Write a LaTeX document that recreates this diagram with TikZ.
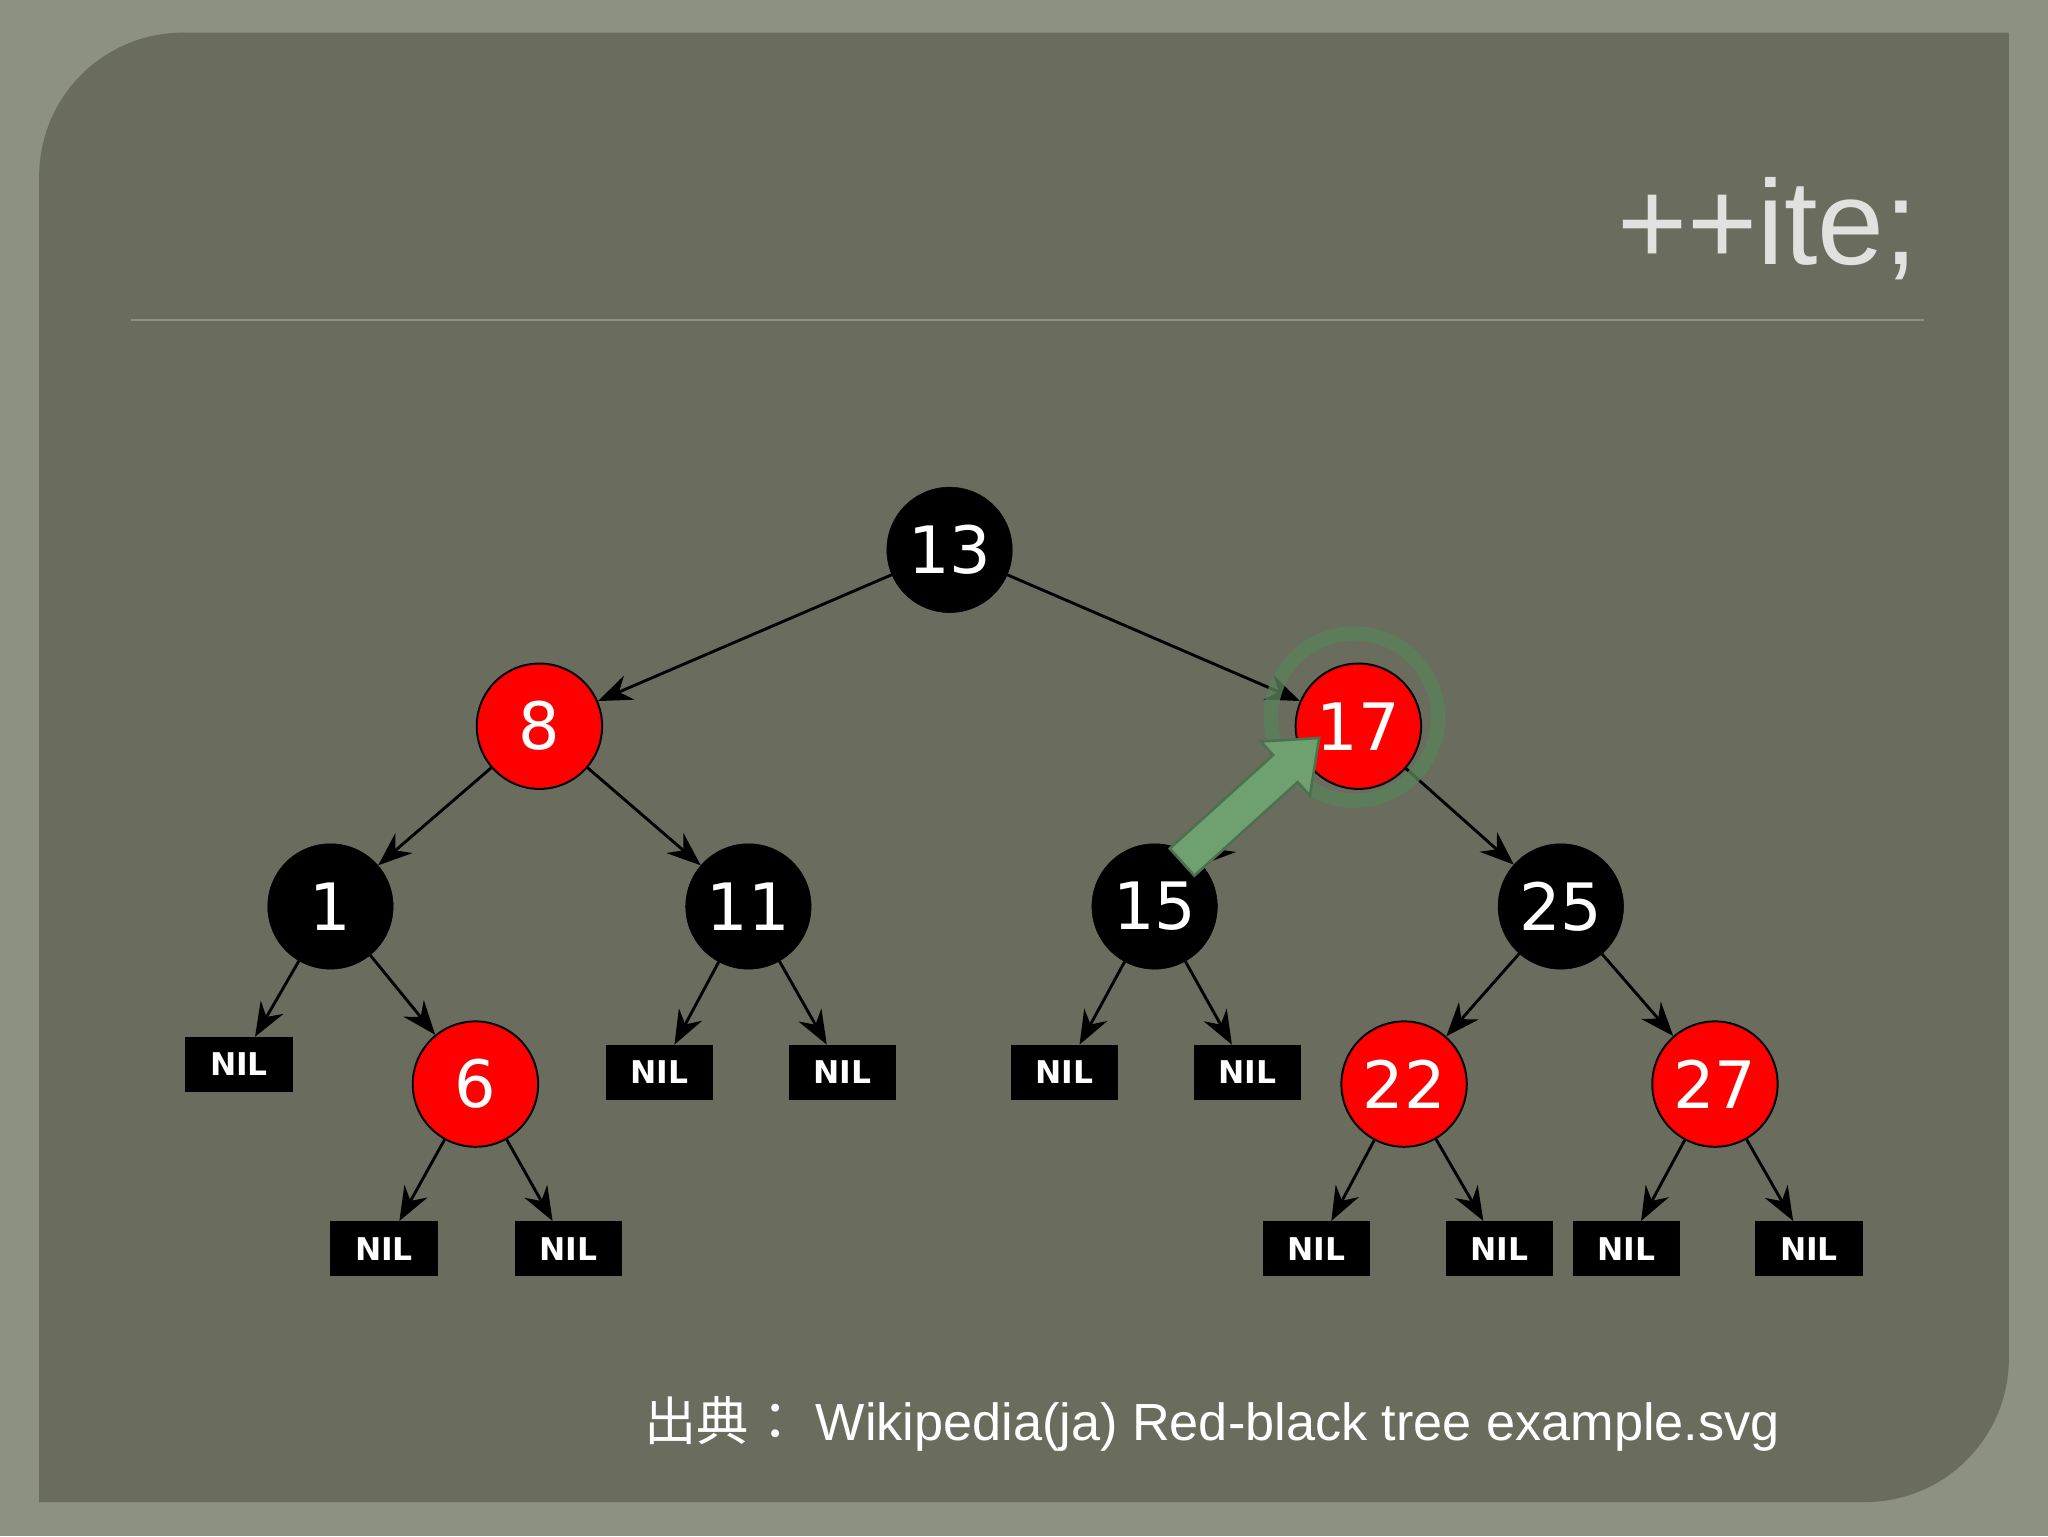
\documentclass[tikz,border=0pt]{standalone}
\usepackage{fontspec}
\setmainfont{DejaVu Sans}
\newfontfamily\titlefont{Liberation Sans}
\newfontfamily\cjk{Noto Sans CJK JP}
\usetikzlibrary{arrows.meta,calc}
\definecolor{outerbg}{HTML}{8C9181}
\definecolor{panel}{HTML}{6A6D5E}
\definecolor{rbred}{HTML}{FF0000}
\definecolor{hl}{HTML}{6FA06F}
\begin{document}
\begin{tikzpicture}[x=1pt,y=-1pt,
  bk/.style={circle,fill=black,draw=black,minimum size=96pt,inner sep=0pt,text=white,font=\fontsize{50}{50}\selectfont},
  rd/.style={bk,fill=rbred,line width=1.5pt},
  nil/.style={fill=black,minimum width=82pt,minimum height=42pt,inner sep=0pt,text=white,font=\bfseries\fontsize{24}{24}\selectfont},
  ed/.style={-{Stealth[length=26pt,width=20pt]},line width=2.2pt,black}]
\useasboundingbox (0,0) rectangle (1568,1176);
\fill[outerbg] (0,0) rectangle (1568,1176);
\fill[panel] (30,1150) -- (30,600) [rounded corners=110pt] -- (30,25) -- (800,25) [sharp corners] -- (1538,25) -- (1538,600) [rounded corners=110pt] -- (1538,1150) -- (800,1150) [sharp corners] -- cycle;
\node[anchor=east,text=white!80!panel,font=\titlefont\fontsize{92}{92}\selectfont] (title) at (1472,175) {++ite;};
\draw[line width=1.5pt,color=white!25!panel] (100,245) -- (1473,245);
\node[bk] (n13) at (727,421) {13};
\node[rd] (n8) at (413,556) {8};
\node[rd] (n17) at (1040,556) {17};
\node[bk] (n1) at (253,694) {1};
\node[bk] (n11) at (573,694) {11};
\node[bk] (n15) at (884,694) {15};
\node[bk] (n25) at (1195,694) {25};
\node[rd] (n6) at (364,830) {6};
\node[rd] (n22) at (1075,830) {22};
\node[rd] (n27) at (1313,830) {27};
\node[nil] (a) at (183,815) {NIL};
\node[nil] (b) at (294,956) {NIL};
\node[nil] (c) at (435,956) {NIL};
\node[nil] (d) at (505,821) {NIL};
\node[nil] (e) at (645,821) {NIL};
\node[nil] (f) at (815,821) {NIL};
\node[nil] (g) at (955,821) {NIL};
\node[nil] (h) at (1008,956) {NIL};
\node[nil] (i) at (1148,956) {NIL};
\node[nil] (j) at (1245,956) {NIL};
\node[nil] (k) at (1385,956) {NIL};
\foreach \p/\c in {n13/n8,n13/n17,n8/n1,n8/n11,n17/n15,n17/n25,n1/a,n1/n6,n6/b,n6/c,n11/d,n11/e,n15/f,n15/g,n25/n22,n25/n27,n22/h,n22/i,n27/j,n27/k}
  \draw[ed] (\p) -- (\c);
\node[circle,draw=hl!80!black,line width=11pt,draw opacity=0.8,minimum size=128pt] (ring) at (1037,549) {};
\filldraw[fill=hl,draw=hl!70!black,line width=2pt,line join=miter] (895.6,649.6) -- (974.7,578.1) -- (965.3,567.7) -- (1010,565) -- (1002.9,609.2) -- (993.5,598.9) -- (914.4,670.4) -- cycle;
\node[anchor=west,text=white,font=\fontsize{40}{40}\selectfont\titlefont] (cap) at (490,1090) {{\cjk 出典：} Wikipedia(ja) Red-black tree example.svg};
\end{tikzpicture}
\end{document}
